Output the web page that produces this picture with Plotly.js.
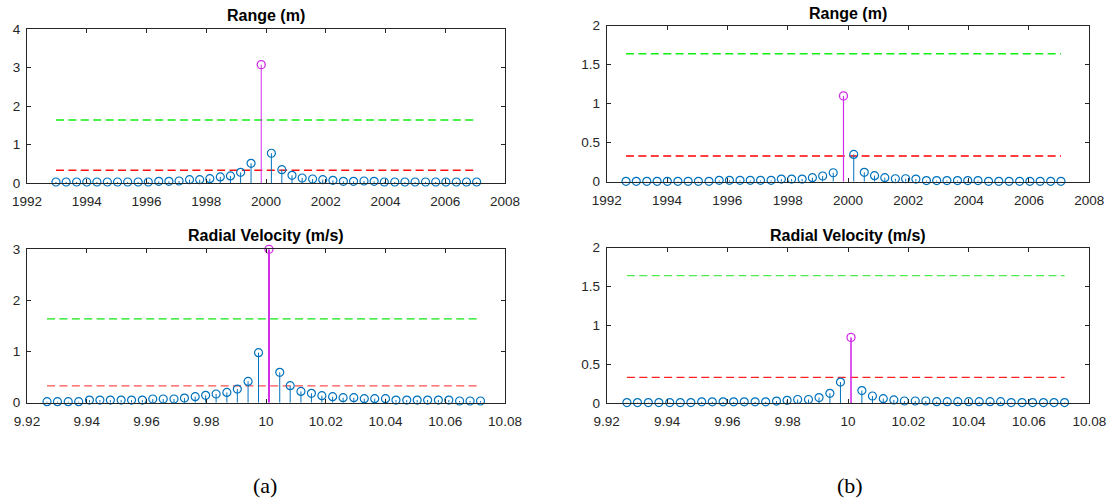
<!DOCTYPE html>
<html>
<head>
<meta charset="utf-8">
<script src="https://cdn.plot.ly/plotly-3.0.1.min.js"></script>
<style>
  html, body { margin: 0; padding: 0; background: #ffffff; }
  #chart { width: 1113px; height: 502px; }
</style>
</head>
<body>
<div id="chart"></div>
<script>
// ---------------- data ----------------
const rangeYearsA = [1992.97,1993.31,1993.66,1994.00,1994.34,1994.69,1995.03,1995.37,1995.72,1996.06,
  1996.41,1996.75,1997.09,1997.44,1997.78,1998.12,1998.47,1998.81,1999.15,1999.50,
  1999.84,2000.18,2000.53,2000.87,2001.21,2001.56,2001.90,2002.24,2002.59,2002.93,
  2003.28,2003.62,2003.96,2004.31,2004.65,2004.99,2005.34,2005.68,2006.02,2006.37,
  2006.71,2007.05];
const rangeA = [0.026,0.026,0.026,0.026,0.026,0.026,0.026,0.026,0.026,0.026,
  0.043,0.043,0.052,0.087,0.087,0.113,0.157,0.183,0.278,0.513,
  3.08,0.774,0.348,0.20,0.13,0.104,0.087,0.07,0.043,0.043,
  0.052,0.043,0.026,0.026,0.026,0.026,0.026,0.026,0.026,0.026,
  0.026,0.026];

const rangeYearsB = [1992.64,1992.98,1993.33,1993.67,1994.01,1994.36,1994.70,1995.04,1995.39,1995.73,
  1996.07,1996.42,1996.76,1997.10,1997.45,1997.79,1998.13,1998.48,1998.82,1999.16,
  1999.51,1999.85,2000.19,2000.54,2000.88,2001.22,2001.57,2001.91,2002.25,2002.60,
  2002.94,2003.28,2003.63,2003.97,2004.31,2004.66,2005.00,2005.34,2005.69,2006.03,
  2006.37,2006.72,2007.06];
const rangeB = [0.005,0.005,0.005,0.005,0.005,0.005,0.005,0.005,0.005,0.017,
  0.017,0.017,0.017,0.017,0.017,0.034,0.034,0.034,0.051,0.073,
  0.115,1.10,0.35,0.12,0.077,0.051,0.038,0.038,0.034,0.015,
  0.015,0.015,0.015,0.015,0.015,0.005,0.005,0.005,0.005,0.005,
  0.005,0.005,0.005];

const velocityX = [9.9267,9.9302,9.9338,9.9373,9.9409,9.9444,9.9479,9.9515,9.9550,9.9586,
  9.9621,9.9656,9.9692,9.9727,9.9763,9.9798,9.9833,9.9869,9.9904,9.9940,
  9.9975,10.0010,10.0046,10.0081,10.0117,10.0152,10.0187,10.0223,10.0258,10.0294,
  10.0329,10.0364,10.0400,10.0435,10.0471,10.0506,10.0541,10.0577,10.0612,10.0648,
  10.0683,10.0718];
const velocityA = [0.02,0.02,0.02,0.02,0.052,0.052,0.052,0.052,0.052,0.052,
  0.072,0.072,0.072,0.091,0.117,0.144,0.17,0.20,0.267,0.417,
  0.978,3.0,0.594,0.333,0.22,0.183,0.137,0.117,0.098,0.098,
  0.078,0.078,0.078,0.052,0.052,0.052,0.052,0.052,0.052,0.033,
  0.033,0.033];
const velocityB = [0.005,0.005,0.005,0.005,0.005,0.005,0.005,0.015,0.015,0.015,
  0.015,0.015,0.015,0.015,0.025,0.035,0.045,0.045,0.07,0.125,
  0.27,0.845,0.16,0.09,0.056,0.04,0.026,0.026,0.026,0.017,
  0.017,0.017,0.017,0.017,0.017,0.017,0.005,0.005,0.005,0.005,
  0.005,0.005];

const upperThreshold = 1.64;
const lowerThreshold = 0.33;

const yearTicks = [1992,1994,1996,1998,2000,2002,2004,2006,2008];
const velTicks = [9.92,9.94,9.96,9.98,10,10.02,10.04,10.06,10.08];
const velTickText = ['9.92','9.94','9.96','9.98','10','10.02','10.04','10.06','10.08'];

const titles = ['Range (m)', 'Radial Velocity (m/s)'];
const captions = ['(a)', '(b)'];

// ---------------- styling ----------------
const BLUE = '#0072BD';
const MAGENTA = '#d22ee8';
const AXC = '#262626';
const FONT = 'Liberation Sans, Arial, Helvetica, sans-serif';

const traces = [];

function addPanel(xs, ys, xa, ya, o) {
  const peak = ys.indexOf(Math.max(...ys));
  const x0 = xs[0], x1 = xs[xs.length - 1];
  traces.push({x:[x0,x1], y:[upperThreshold,upperThreshold], xaxis:xa, yaxis:ya, mode:'lines',
    line:{color:o.green, width:1.4, dash:'8px,4.4px'}, hoverinfo:'skip', showlegend:false});
  traces.push({x:[x0,x1], y:[lowerThreshold,lowerThreshold], xaxis:xa, yaxis:ya, mode:'lines',
    line:{color:o.red, width:1.4, dash:'8px,4.4px'}, hoverinfo:'skip', showlegend:false});
  const sx = [], sy = [];
  xs.forEach((x, i) => { if (i !== peak) { sx.push(x, x, null); sy.push(0, ys[i], null); } });
  traces.push({x:sx, y:sy, xaxis:xa, yaxis:ya, mode:'lines', line:{color:BLUE, width:1},
    hoverinfo:'skip', showlegend:false});
  const mx = xs.filter((_, i) => i !== peak), my = ys.filter((_, i) => i !== peak);
  traces.push({x:mx, y:my, xaxis:xa, yaxis:ya, mode:'markers', cliponaxis:false,
    marker:{symbol:'circle-open', size:8, color:BLUE, line:{width:1.2, color:BLUE}}, showlegend:false});
  traces.push({x:[xs[peak], xs[peak]], y:[0, ys[peak]], xaxis:xa, yaxis:ya, mode:'lines',
    line:{color:MAGENTA, width:o.peakWidth}, hoverinfo:'skip', showlegend:false});
  traces.push({x:[xs[peak]], y:[ys[peak]], xaxis:xa, yaxis:ya, mode:'markers', cliponaxis:false,
    marker:{symbol:'circle-open', size:8, color:MAGENTA, line:{width:1.3, color:MAGENTA}}, showlegend:false});
}

addPanel(rangeYearsA, rangeA, 'x', 'y', {green:'#10ee10', red:'#ff1010', peakWidth:1});
addPanel(velocityX, velocityA, 'x2', 'y2', {green:'#10e610', red:'#ff5050', peakWidth:2});
addPanel(rangeYearsB, rangeB, 'x3', 'y3', {green:'#10ee10', red:'#ff0000', peakWidth:1.2});
addPanel(velocityX, velocityB, 'x4', 'y4', {green:'#50ea50', red:'#ff2020', peakWidth:1.6});

function xAxis(domain, anchor, tickvals, ticktext) {
  const a = {domain, anchor, range:[tickvals[0], tickvals[tickvals.length-1]],
    tickmode:'array', tickvals, ticks:'inside', ticklen:4, tickwidth:1, tickcolor:AXC,
    showline:true, linecolor:AXC, linewidth:1, mirror:'ticks', showgrid:false, zeroline:false,
    tickfont:{family:FONT, size:13.5, color:AXC}, ticklabelstandoff:6, fixedrange:true};
  if (ticktext) a.ticktext = ticktext;
  return a;
}
function yAxis(domain, anchor, max, dtick) {
  return {domain, anchor, range:[0, max], tickmode:'linear', tick0:0, dtick,
    ticks:'inside', ticklen:4, tickwidth:1, tickcolor:AXC,
    showline:true, linecolor:AXC, linewidth:1, mirror:'ticks', showgrid:false, zeroline:false,
    tickfont:{family:FONT, size:13.5, color:AXC}, ticklabelstandoff:3, fixedrange:true};
}

const W = 1113, H = 502;
const px = v => v / W, py = v => 1 - v / H;

const layout = {
  width: W, height: H,
  margin:{l:0, r:0, t:0, b:0},
  paper_bgcolor:'#ffffff', plot_bgcolor:'#ffffff',
  showlegend:false,
  xaxis:  xAxis([px(27), px(505)], 'y', yearTicks),
  yaxis:  yAxis([py(183), py(29.3)], 'x', 4, 1),
  xaxis2: xAxis([px(27), px(505)], 'y2', velTicks, velTickText),
  yaxis2: yAxis([py(402.7), py(249.3)], 'x2', 3, 1),
  xaxis3: xAxis([px(606.7), px(1089.3)], 'y3', yearTicks),
  yaxis3: yAxis([py(181.7), py(25.7)], 'x3', 2, 0.5),
  xaxis4: xAxis([px(606.7), px(1089.3)], 'y4', velTicks, velTickText),
  yaxis4: yAxis([py(403), py(247.7)], 'x4', 2, 0.5),
  annotations: [
    {text:'<b>'+titles[0]+'</b>', x:px(266), y:py(16), xref:'paper', yref:'paper', xanchor:'center', yanchor:'middle', showarrow:false, font:{family:FONT, size:16, color:'#000'}},
    {text:'<b>'+titles[1]+'</b>', x:px(266), y:py(235.5), xref:'paper', yref:'paper', xanchor:'center', yanchor:'middle', showarrow:false, font:{family:FONT, size:16, color:'#000'}},
    {text:'<b>'+titles[0]+'</b>', x:px(848), y:py(14), xref:'paper', yref:'paper', xanchor:'center', yanchor:'middle', showarrow:false, font:{family:FONT, size:16, color:'#000'}},
    {text:'<b>'+titles[1]+'</b>', x:px(848), y:py(235), xref:'paper', yref:'paper', xanchor:'center', yanchor:'middle', showarrow:false, font:{family:FONT, size:16, color:'#000'}},
    {text:captions[0], x:px(265), y:py(485), xref:'paper', yref:'paper', xanchor:'center', yanchor:'middle', showarrow:false, font:{family:'Liberation Serif, DejaVu Serif, serif', size:22, color:'#000'}},
    {text:captions[1], x:px(850), y:py(485), xref:'paper', yref:'paper', xanchor:'center', yanchor:'middle', showarrow:false, font:{family:'Liberation Serif, DejaVu Serif, serif', size:22, color:'#000'}}
  ]
};

Plotly.newPlot('chart', traces, layout, {displayModeBar:false, staticPlot:true});
</script>
</body>
</html>
